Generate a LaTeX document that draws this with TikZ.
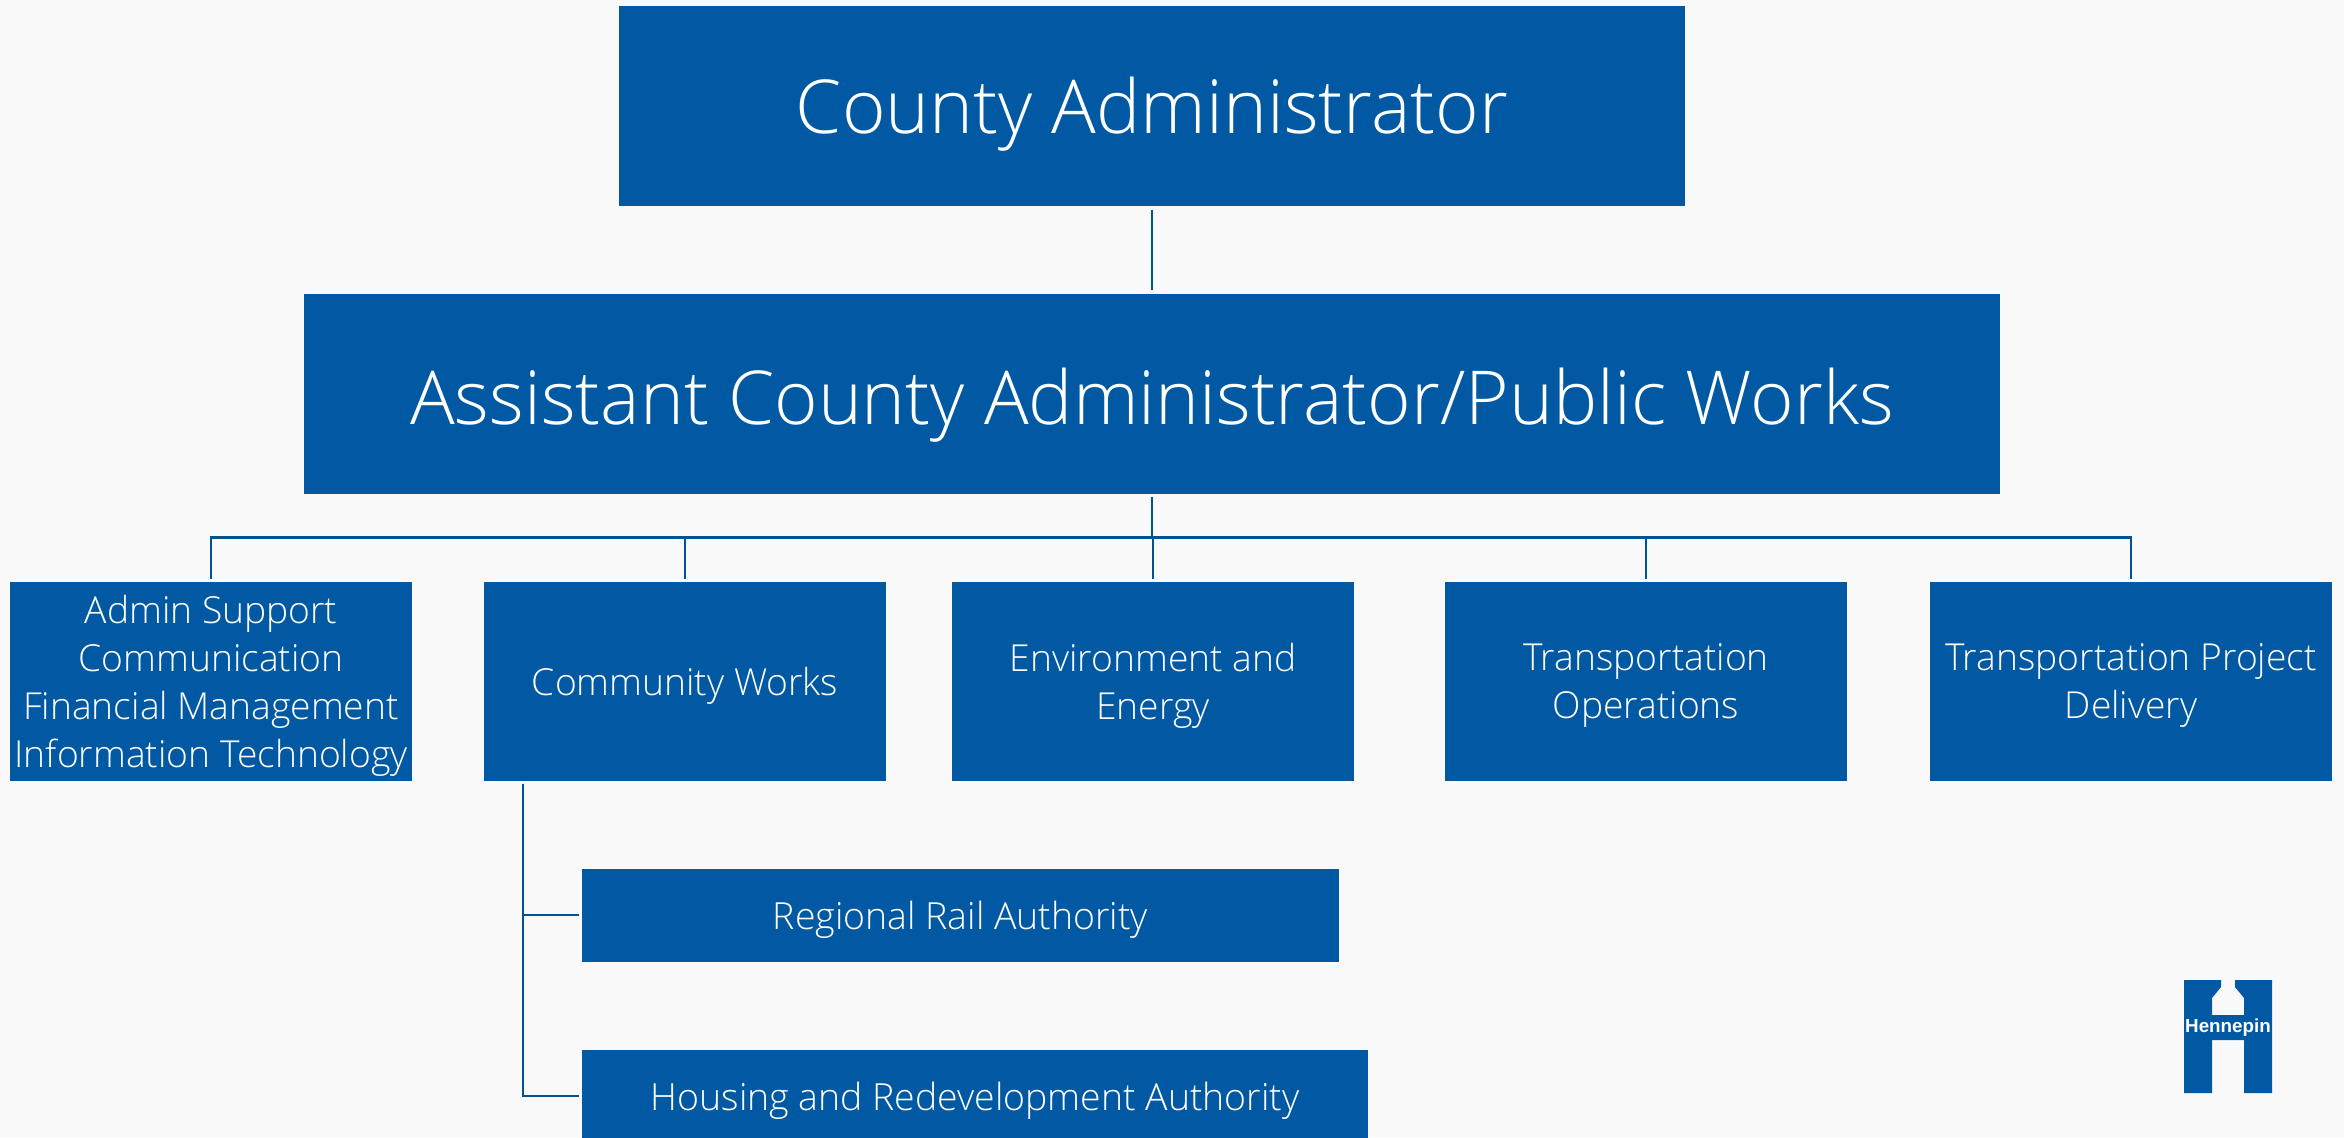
\documentclass[tikz,border=0pt]{standalone}
\usepackage{fontspec}
\setmainfont{Open Sans Light}
\newfontfamily\logofont[Scale=1]{Liberation Sans}
\usetikzlibrary{positioning}
\definecolor{hennblue}{HTML}{0059A2}
\definecolor{linkblue}{HTML}{00538F}
\definecolor{pagegray}{HTML}{F9F9F9}

\begin{document}
\begin{tikzpicture}[
        x=0.5pt, y=-0.5pt,
        every node/.style={inner sep=0pt, outer sep=0pt, align=center, text=white},
        office/.style={fill=hennblue, minimum width=#1, text depth=0pt},
        top/.style={office=533pt, minimum height=100pt, font=\fontsize{37.2}{44}\selectfont},
        deputy/.style={office=848pt, minimum height=100pt, text height=31pt, font=\fontsize{37.2}{44}\selectfont},
        division/.style={office=201pt, minimum height=99.5pt, font=\fontsize{18.6}{24}\selectfont},
        board/.style={office=#1, minimum height=46.5pt, font=\fontsize{18.7}{24}\selectfont},
        link/.style={draw=linkblue, line width=1.4pt}
    ]

    \clip (0,0) rectangle (2344,1137);
    \fill[pagegray] (0,0) rectangle (2344,1137);

    % Nodes
    \node (county)[top] at (1152,105.5) {County Administrator};
    \node (assistant)[deputy, below=44pt of county] {Assistant County Administrator/Public Works};

    \node (env)[division, below=44pt of assistant, xshift=.5pt] {Environment and\\Energy};
    \node (community)[division, left=33pt of env] {Community Works};
    \node (admin)[division, left=36pt of community] {Admin Support\\Communication\\Financial Management\\Information Technology};
    \node (ops)[division, right=45.5pt of env] {Transportation\\Operations};
    \node (delivery)[division, right=41.5pt of ops] {Transportation Project\\Delivery};

    \node (rail)[board=378.5pt, below right=44pt and 49pt of community.south west] {Regional Rail Authority};
    \node (housing)[board=393pt, below right=44pt and 0pt of rail.south west] {Housing and Redevelopment Authority};

    \coordinate (bus) at ([yshift=-22pt]assistant.south);
    \coordinate (trunk) at ([xshift=19.5pt]community.south west);

    % Logo
    \fill[hennblue] (2184,980) -- (2221,980) -- (2221,987) -- (2212,998) -- (2212,1015) -- (2244,1015)
        -- (2244,998) -- (2235,987) -- (2235,980) -- (2272,980) -- (2272,1093) -- (2244,1093) -- (2244,1040)
        -- (2212,1040) -- (2212,1093) -- (2184,1093) -- cycle;
    \node (logo) at (2228,1027.5) {\logofont\bfseries\fontsize{9.4}{10}\selectfont Hennepin};

    % Edges
    \draw[link, shorten <=2pt, shorten >=2pt] (county) -- (assistant);
    \draw[link, shorten <=1.5pt] (assistant) -- (bus);
    \foreach \n in {admin,community,env,ops,delivery}
        \draw[link, shorten >=1.5pt] (bus) -| (\n.north);
    \draw[link, shorten <=1.5pt, shorten >=1.5pt] (trunk) |- (rail.west);
    \draw[link, shorten <=1.5pt, shorten >=1.5pt] (trunk) |- (housing.west);

\end{tikzpicture}
\end{document}
